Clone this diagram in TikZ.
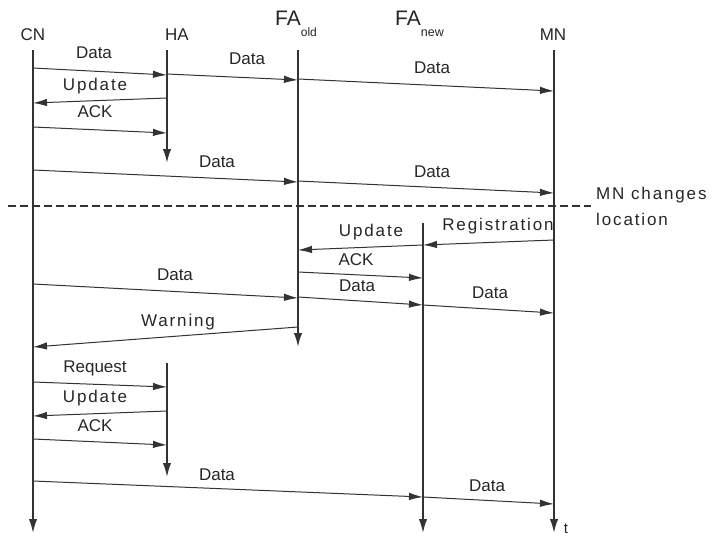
\documentclass[tikz,border=0pt]{standalone}
\usepackage{fontspec}
\setmainfont{Liberation Sans}
\usetikzlibrary{arrows.meta}
\definecolor{ln}{HTML}{333333}
\definecolor{tx}{HTML}{262626}
\begin{document}
\begin{tikzpicture}[x=1pt,y=-1pt,
  life/.style={draw=ln,line width=1.9pt,-{Latex[length=14pt,width=8.5pt]}},
  msg/.style={draw=ln,line width=1pt,-{Latex[length=14pt,width=7.5pt]}},
  lbl/.style={text=tx,inner sep=0pt,font=\fontsize{17}{17}\selectfont},
  wlbl/.style={text=tx,inner sep=0pt,font=\fontsize{17}{17}\selectfont\addfontfeature{LetterSpace=11}},
  hdr/.style={text=tx,inner sep=0pt,font=\fontsize{17}{17}\selectfont},
  fahdr/.style={text=tx,inner sep=0pt,anchor=base west,font=\fontsize{21}{21}\selectfont},
  sepline/.style={draw=ln,line width=2.8pt,dash pattern=on 8pt off 4pt}]
\useasboundingbox (0,0) rectangle (715,536);
% headers
\node[hdr] (cn) at (33,35) {CN};
\node[hdr] (ha) at (177,35) {HA};
\node[fahdr] (faold) at (275,25) {FA\raisebox{-11pt}{\fontsize{12}{12}\selectfont old}};
\node[fahdr] (fanew) at (395,25) {FA\raisebox{-11pt}{\fontsize{12.5}{12.5}\selectfont new}};
\node[hdr] (mn) at (553,35) {MN};
% lifelines
\coordinate (cnT) at (33,50);   \coordinate (cnB) at (33,533);
\coordinate (haT) at (167,50);  \coordinate (haB) at (167,163);
\coordinate (ha2T) at (167,363); \coordinate (ha2B) at (167,477);
\coordinate (foT) at (298,50);  \coordinate (foB) at (298,347);
\coordinate (fnT) at (423,223); \coordinate (fnB) at (423,533);
\coordinate (mnT) at (554,50);  \coordinate (mnB) at (554,533);
\draw[life] (cnT) -- (cnB);
\draw[life] (haT) -- (haB);
\draw[life] (ha2T) -- (ha2B);
\draw[life] (foT) -- (foB);
\draw[life] (fnT) -- (fnB);
\draw[life] (mnT) -- (mnB);
\node[text=tx,inner sep=0pt,font=\fontsize{15}{15}\selectfont] (t) at (566,529) {t};
% separator
\coordinate (sepL) at (8,206); \coordinate (sepR) at (591,206);
\draw[sepline] (sepL) -- (sepR);
\node[wlbl,anchor=west] (chg1) at (596,195) {MN changes};
\node[wlbl,anchor=west] (chg2) at (596,219) {location};
% messages before move
\coordinate (a1) at (33,68);  \coordinate (b1) at (167,75);
\draw[msg] (a1) -- (b1);  \node[lbl] (l1) at (94,53) {Data};
\coordinate (a2) at (167,74); \coordinate (b2) at (298,80);
\draw[msg] (a2) -- (b2);  \node[lbl] (l2) at (247,59) {Data};
\coordinate (a3) at (298,79); \coordinate (b3) at (554,91);
\draw[msg] (a3) -- (b3);  \node[lbl] (l3) at (432,68) {Data};
\coordinate (a4) at (167,98); \coordinate (b4) at (33,103);
\draw[msg] (a4) -- (b4);  \node[wlbl] (l4) at (95,86) {Update};
\coordinate (a5) at (33,127); \coordinate (b5) at (167,133);
\draw[msg] (a5) -- (b5);  \node[lbl] (l5) at (95,112) {ACK};
\coordinate (a6) at (33,170); \coordinate (b6) at (298,182);
\draw[msg] (a6) -- (b6);  \node[lbl] (l6) at (217,162) {Data};
\coordinate (a7) at (298,181); \coordinate (b7) at (554,193);
\draw[msg] (a7) -- (b7);  \node[lbl] (l7) at (432,172) {Data};
% messages after move
\coordinate (a8) at (554,240); \coordinate (b8) at (423,245);
\draw[msg] (a8) -- (b8);  \node[wlbl] (l8) at (498,226) {Registration};
\coordinate (a9) at (423,245); \coordinate (b9) at (298,250);
\draw[msg] (a9) -- (b9);  \node[wlbl] (l9) at (371,232) {Update};
\coordinate (a10) at (298,272); \coordinate (b10) at (423,278);
\draw[msg] (a10) -- (b10); \node[lbl] (l10) at (356,260) {ACK};
\coordinate (a11) at (33,284); \coordinate (b11) at (298,298);
\draw[msg] (a11) -- (b11); \node[lbl] (l11) at (175,275) {Data};
\coordinate (a12) at (298,297); \coordinate (b12) at (423,305);
\draw[msg] (a12) -- (b12); \node[lbl] (l12) at (357,286) {Data};
\coordinate (a13) at (423,305); \coordinate (b13) at (554,313);
\draw[msg] (a13) -- (b13); \node[lbl] (l13) at (490,293) {Data};
\coordinate (a14) at (298,327); \coordinate (b14) at (33,347);
\draw[msg] (a14) -- (b14); \node[wlbl] (l14) at (178,322) {Warning};
\coordinate (a15) at (33,382); \coordinate (b15) at (167,387);
\draw[msg] (a15) -- (b15); \node[lbl] (l15) at (95,368) {Request};
\coordinate (a16) at (167,411); \coordinate (b16) at (33,416);
\draw[msg] (a16) -- (b16); \node[wlbl] (l16) at (95,398) {Update};
\coordinate (a17) at (33,439); \coordinate (b17) at (167,445);
\draw[msg] (a17) -- (b17); \node[lbl] (l17) at (95,426) {ACK};
\coordinate (a18) at (33,481); \coordinate (b18) at (423,497);
\draw[msg] (a18) -- (b18); \node[lbl] (l18) at (217,475) {Data};
\coordinate (a19) at (423,497); \coordinate (b19) at (554,504);
\draw[msg] (a19) -- (b19); \node[lbl] (l19) at (487,486) {Data};
\end{tikzpicture}
\end{document}
